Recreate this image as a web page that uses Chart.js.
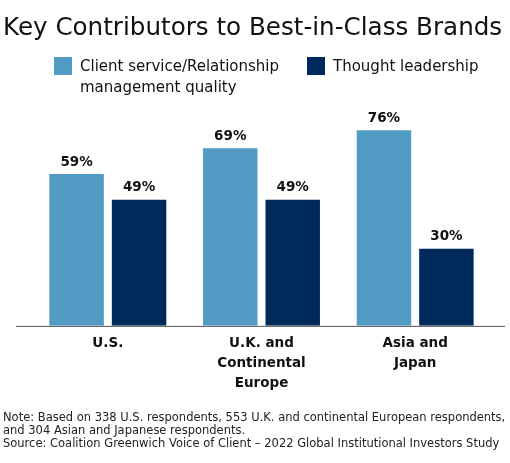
<!DOCTYPE html>
<html>
<head>
<meta charset="utf-8">
<script src="https://cdn.jsdelivr.net/npm/chart.js@4.4.1/dist/chart.umd.min.js"></script>
<style>
    body { margin: 0; background: #fff; font-family: "DejaVu Sans", sans-serif; color: #111; }
    #wrap { position: relative; width: 510px; height: 463px; overflow: hidden; }
    #chart { position: absolute; left: 0; top: 0; }
    .title { position: absolute; left: 3px; top: 12px; font-size: 24.6px; white-space: nowrap; }
    .legend-item { position: absolute; top: 57px; font-size: 15px; line-height: 21px; }
    .legend-box { position: absolute; left: 0; top: 0; width: 18px; height: 18px; }
    .legend-text { position: absolute; left: 26px; top: -1px; white-space: nowrap; }
    .note { position: absolute; left: 3px; top: 411px; font-size: 11.5px; line-height: 12.8px; color: #222; white-space: nowrap; }
</style>
</head>
<body>
<div id="wrap">
    <canvas id="chart" width="510" height="463"></canvas>
    <div class="title">Key Contributors to Best-in-Class Brands</div>
    <div class="legend-item" style="left:54px;">
        <div class="legend-box" style="background:#529bc4;"></div>
        <div class="legend-text">Client service/Relationship<br>management quality</div>
    </div>
    <div class="legend-item" style="left:307px;">
        <div class="legend-box" style="background:#002a5c;"></div>
        <div class="legend-text">Thought leadership</div>
    </div>
    <div class="note">Note: Based on 338 U.S. respondents, 553 U.K. and continental European respondents,<br>and 304 Asian and Japanese respondents.<br>Source: Coalition Greenwich Voice of Client – 2022 Global Institutional Investors Study</div>
</div>
<script>
// Data
const regions = [['U.S.'], ['U.K. and', 'Continental', 'Europe'], ['Asia and', 'Japan']];
const clientService = [59, 69, 76];
const thoughtLeadership = [49, 49, 30];
const seriesNames = ['Client service/Relationship management quality', 'Thought leadership'];

const LIGHT = '#529bc4';
const DARK = '#002a5c';
const BOLD = { family: '"DejaVu Sans", sans-serif', size: 13.5, weight: 'bold', lineHeight: 1.46 };

// value labels above each bar
const barLabels = {
    id: 'barLabels',
    afterDatasetsDraw(chart) {
        const ctx = chart.ctx;
        ctx.save();
        ctx.font = 'bold 13.5px "DejaVu Sans", sans-serif';
        ctx.fillStyle = '#111';
        ctx.textAlign = 'center';
        ctx.textBaseline = 'middle';
        chart.data.datasets.forEach((ds, i) => {
            chart.getDatasetMeta(i).data.forEach((bar, j) => {
                ctx.fillText(ds.data[j] + '%', bar.x, bar.y - 12);
            });
        });
        ctx.restore();
    }
};

// baseline runs a bit wider than the plot area
const baseline = {
    id: 'baseline',
    afterDatasetsDraw(chart) {
        const ctx = chart.ctx;
        const y = chart.scales.y.getPixelForValue(0);
        ctx.save();
        ctx.strokeStyle = '#555';
        ctx.lineWidth = 1;
        ctx.beginPath();
        ctx.moveTo(16, y + 0.5);
        ctx.lineTo(505, y + 0.5);
        ctx.stroke();
        ctx.restore();
    }
};

new Chart(document.getElementById('chart'), {
    type: 'bar',
    data: {
        labels: regions,
        datasets: [
            {
                label: seriesNames[0],
                data: clientService,
                backgroundColor: LIGHT,
                categoryPercentage: 0.813,
                barPercentage: 0.872
            },
            {
                label: seriesNames[1],
                data: thoughtLeadership,
                backgroundColor: DARK,
                categoryPercentage: 0.813,
                barPercentage: 0.872
            }
        ]
    },
    options: {
        responsive: false,
        animation: false,
        layout: {
            padding: { left: 31, right: 18, top: 120, bottom: 62 }
        },
        scales: {
            x: {
                grid: { display: false, drawTicks: false },
                border: { display: false },
                ticks: {
                    color: '#111',
                    padding: 8,
                    autoSkip: false,
                    minRotation: 0,
                    maxRotation: 0,
                    font: BOLD
                }
            },
            y: {
                display: false,
                min: 0,
                max: 80
            }
        },
        plugins: {
            legend: { display: false },
            tooltip: { enabled: false }
        }
    },
    plugins: [barLabels, baseline]
});
</script>
</body>
</html>
